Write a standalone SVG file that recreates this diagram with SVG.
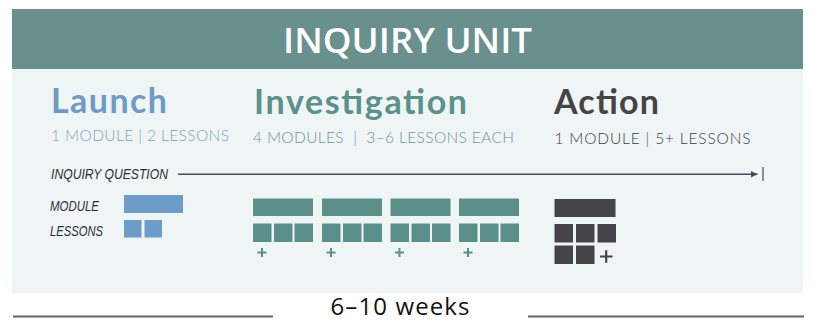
<svg xmlns="http://www.w3.org/2000/svg" width="814" height="321" viewBox="0 0 814 321">
<defs>
<style>
.title{font-family:Lato,"Open Sans",sans-serif;font-weight:700;font-size:34px}
.sub{font-family:Lato,"Open Sans",sans-serif;font-weight:300;font-size:15.5px;white-space:pre}
.hand{font-family:"Liberation Sans",Arial,sans-serif;font-style:italic;font-size:14px;fill:#2e2e33}
.blue{fill:#6e9cc8}
.teal{fill:#5b8f8a}
.dark{fill:#454549}
.plusT{stroke:#5b8f8a;stroke-width:2;fill:none}
.plusD{stroke:#454549;stroke-width:2.2;fill:none}
</style>
<marker id="arr" viewBox="0 0 10 10" refX="10" refY="5" markerWidth="7" markerHeight="7" markerUnits="userSpaceOnUse" orient="auto">
<path d="M0,0 L10,5 L0,10 z" fill="#474a5c"/>
</marker>
</defs>
<rect x="0" y="0" width="814" height="321" fill="#ffffff"/>
<g id="header">
<rect x="12" y="9" width="791" height="60" fill="#6a908e"/>
<text x="407.5" y="53" text-anchor="middle" font-family="'Open Sans',sans-serif" font-weight="600" font-size="35" fill="#ffffff" textLength="249" lengthAdjust="spacingAndGlyphs">INQUIRY UNIT</text>
</g>
<rect id="panel" x="12" y="69" width="791" height="224" fill="#eff5f5"/>
<g id="launch">
<text class="title" x="51" y="113" fill="#6e9bc6" textLength="116" lengthAdjust="spacing">Launch</text>
<text class="sub" x="51" y="141" fill="#7f9fbf" textLength="178" lengthAdjust="spacing">1 MODULE | 2 LESSONS</text>
<rect class="blue" x="124" y="195" width="59" height="18"/>
<rect class="blue" x="124" y="220" width="17.5" height="17.5"/>
<rect class="blue" x="144.5" y="220" width="17.5" height="17.5"/>
</g>
<g id="legend">
<text class="hand" x="51" y="179" textLength="117" lengthAdjust="spacingAndGlyphs">INQUIRY QUESTION</text>
<text class="hand" x="50" y="211" textLength="49" lengthAdjust="spacingAndGlyphs">MODULE</text>
<text class="hand" x="50" y="236" textLength="53" lengthAdjust="spacingAndGlyphs">LESSONS</text>
</g>
<g id="investigation">
<text class="title" x="254" y="114" fill="#5a918b" textLength="213" lengthAdjust="spacing">Investigation</text>
<text class="sub" x="253" y="142.5" fill="#6a9894" textLength="261" lengthAdjust="spacing" xml:space="preserve">4 MODULES  |  3–6 LESSONS EACH</text>
<g id="inv1">
<rect class="teal" x="253" y="198.5" width="60" height="17.5"/>
<rect class="teal" x="253" y="223.5" width="18.5" height="18.5"/>
<rect class="teal" x="274" y="223.5" width="18.5" height="18.5"/>
<rect class="teal" x="294.5" y="223.5" width="18.5" height="18.5"/>
<path class="plusT" d="M257.5,252.5 h9 M262,248 v9"/>
</g>
<g id="inv2">
<rect class="teal" x="322" y="198.5" width="60" height="17.5"/>
<rect class="teal" x="322" y="223.5" width="18.5" height="18.5"/>
<rect class="teal" x="343" y="223.5" width="18.5" height="18.5"/>
<rect class="teal" x="363.5" y="223.5" width="18.5" height="18.5"/>
<path class="plusT" d="M326.5,252.5 h9 M331,248 v9"/>
</g>
<g id="inv3">
<rect class="teal" x="390.5" y="198.5" width="60" height="17.5"/>
<rect class="teal" x="390.5" y="223.5" width="18.5" height="18.5"/>
<rect class="teal" x="411.5" y="223.5" width="18.5" height="18.5"/>
<rect class="teal" x="432" y="223.5" width="18.5" height="18.5"/>
<path class="plusT" d="M395,252.5 h9 M399.5,248 v9"/>
</g>
<g id="inv4">
<rect class="teal" x="459" y="198.5" width="60" height="17.5"/>
<rect class="teal" x="459" y="223.5" width="18.5" height="18.5"/>
<rect class="teal" x="480" y="223.5" width="18.5" height="18.5"/>
<rect class="teal" x="500.5" y="223.5" width="18.5" height="18.5"/>
<path class="plusT" d="M463.5,252.5 h9 M468,248 v9"/>
</g>
</g>
<g id="action">
<text class="title" x="554" y="114" fill="#444446" textLength="105" lengthAdjust="spacing">Action</text>
<text class="sub" x="554.5" y="143.5" fill="#3e3e43" textLength="196" lengthAdjust="spacing">1 MODULE | 5+ LESSONS</text>
<rect class="dark" x="554.5" y="199" width="61" height="18"/>
<rect class="dark" x="554.5" y="224" width="18.5" height="18.5"/>
<rect class="dark" x="576" y="224" width="18.5" height="18.5"/>
<rect class="dark" x="597.5" y="224" width="18.5" height="18.5"/>
<rect class="dark" x="554.5" y="245.5" width="18.5" height="18.5"/>
<rect class="dark" x="576" y="245.5" width="18.5" height="18.5"/>
<path class="plusD" d="M600,256.5 h12.5 M606.2,250.2 v12.5"/>
</g>
<g id="connectors">
<line x1="178" y1="174.3" x2="757.5" y2="174.3" stroke="#474a5c" stroke-width="1.5" marker-end="url(#arr)"/>
<line x1="763" y1="167" x2="763" y2="181" stroke="#474a5c" stroke-width="1.2"/>
</g>
<g id="duration">
<line x1="13" y1="316.5" x2="273" y2="316.5" stroke="#666666" stroke-width="2"/>
<line x1="528" y1="316.5" x2="804" y2="316.5" stroke="#666666" stroke-width="2"/>
<text x="400" y="315" text-anchor="middle" font-family="'Open Sans',sans-serif" font-size="24" fill="#111111" textLength="139" lengthAdjust="spacing">6–10 weeks</text>
</g>
</svg>
